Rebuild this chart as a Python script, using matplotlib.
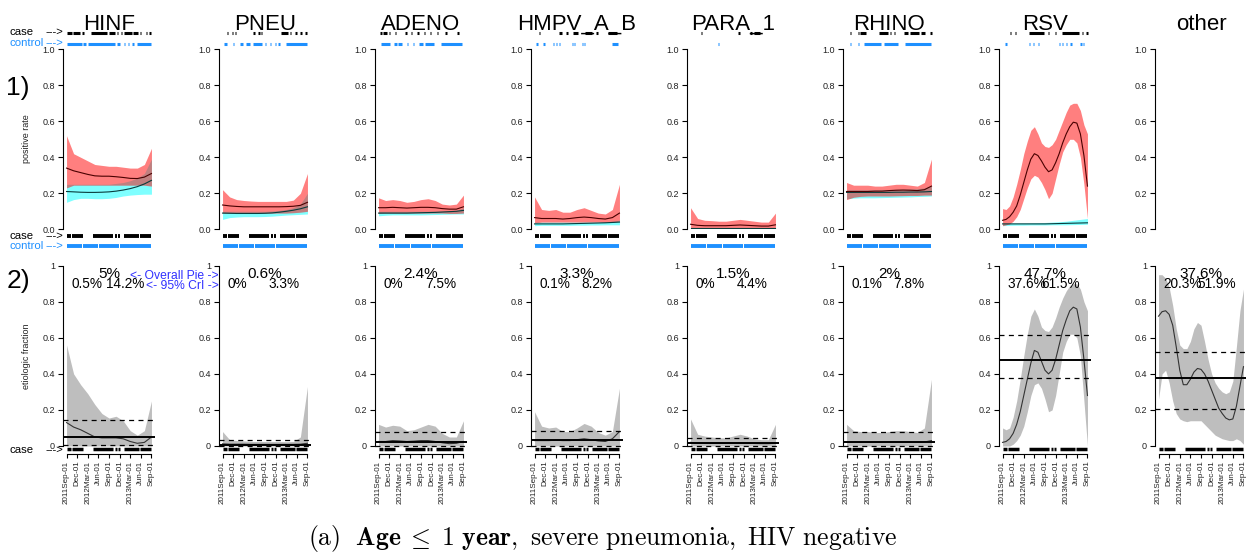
import matplotlib
matplotlib.use('Agg')
import matplotlib.pyplot as plt

plt.rcParams['font.family'] = ['Liberation Sans', 'DejaVu Sans']
plt.rcParams['mathtext.fontset'] = 'cm'

pathogens = ['HINF', 'PNEU', 'ADENO', 'HMPV_A_B', 'PARA_1', 'RHINO', 'RSV', 'other']

# months since 2011-09-01
months = [0, 2, 4, 6, 8, 10, 12, 14, 16, 18, 20, 22, 24]
months_fine = list(range(25))
tick_months = [0, 3, 6, 9, 12, 15, 18, 21, 24]
tick_labels = ['2011Sep-01', 'Dec-01', '2012Mar-01', 'Jun-01', 'Sep-01',
               'Dec-01', '2013Mar-01', 'Jun-01', 'Sep-01']

# overall pie (etiologic fraction, %) with 95% CrI
pie_mean = [5, 0.6, 2.4, 3.3, 1.5, 2, 47.7, 37.6]
pie_lo = [0.5, 0, 0, 0.1, 0, 0.1, 37.6, 20.3]
pie_hi = [14.2, 3.3, 7.5, 8.2, 4.4, 7.8, 61.5, 51.9]

# ---- 1) positive rate, cases (red) and controls (cyan) ----
hinf_case_hi = [0.52, 0.42, 0.40, 0.38, 0.36, 0.355, 0.35, 0.35, 0.345, 0.34, 0.34, 0.36, 0.45]
hinf_case_mid = [0.34, 0.325, 0.315, 0.305, 0.297, 0.295, 0.295, 0.292, 0.288, 0.283, 0.282, 0.29, 0.31]
hinf_case_lo = [0.23, 0.245, 0.245, 0.245, 0.245, 0.245, 0.245, 0.245, 0.245, 0.245, 0.245, 0.245, 0.24]
hinf_ctrl_hi = [0.25, 0.25, 0.25, 0.25, 0.25, 0.25, 0.25, 0.255, 0.26, 0.27, 0.285, 0.31, 0.39]
hinf_ctrl_mid = [0.21, 0.208, 0.206, 0.205, 0.205, 0.206, 0.208, 0.212, 0.218, 0.226, 0.237, 0.252, 0.272]
hinf_ctrl_lo = [0.15, 0.165, 0.172, 0.172, 0.17, 0.17, 0.172, 0.177, 0.185, 0.19, 0.193, 0.195, 0.195]

pneu_case_hi = [0.22, 0.18, 0.165, 0.16, 0.157, 0.155, 0.155, 0.155, 0.155, 0.155, 0.162, 0.2, 0.31]
pneu_case_mid = [0.135, 0.13, 0.127, 0.125, 0.125, 0.125, 0.125, 0.125, 0.125, 0.126, 0.128, 0.133, 0.15]
pneu_case_lo = [0.09, 0.09, 0.09, 0.09, 0.09, 0.09, 0.09, 0.09, 0.09, 0.09, 0.092, 0.095, 0.1]
pneu_ctrl_hi = [0.1, 0.1, 0.1, 0.1, 0.1, 0.1, 0.1, 0.102, 0.105, 0.11, 0.12, 0.14, 0.2]
pneu_ctrl_mid = [0.09, 0.089, 0.088, 0.088, 0.088, 0.088, 0.089, 0.091, 0.095, 0.1, 0.106, 0.114, 0.125]
pneu_ctrl_lo = [0.055, 0.065, 0.068, 0.07, 0.07, 0.07, 0.071, 0.073, 0.076, 0.079, 0.081, 0.083, 0.085]

adeno_case_hi = [0.175, 0.16, 0.165, 0.16, 0.15, 0.155, 0.165, 0.17, 0.16, 0.14, 0.135, 0.14, 0.19]
adeno_case_mid = [0.12, 0.12, 0.122, 0.12, 0.118, 0.12, 0.122, 0.122, 0.12, 0.115, 0.112, 0.112, 0.125]
adeno_case_lo = [0.088, 0.09, 0.09, 0.09, 0.09, 0.09, 0.09, 0.09, 0.09, 0.09, 0.088, 0.088, 0.09]
adeno_ctrl_hi = [0.1, 0.1, 0.1, 0.1, 0.1, 0.1, 0.1, 0.1, 0.1, 0.1, 0.102, 0.106, 0.12]
adeno_ctrl_mid = [0.09, 0.09, 0.09, 0.09, 0.09, 0.091, 0.092, 0.093, 0.094, 0.096, 0.098, 0.1, 0.105]
adeno_ctrl_lo = [0.075, 0.078, 0.08, 0.08, 0.08, 0.08, 0.08, 0.081, 0.082, 0.083, 0.084, 0.085, 0.085]

hmpv_case_hi = [0.18, 0.11, 0.105, 0.11, 0.095, 0.095, 0.11, 0.12, 0.105, 0.09, 0.085, 0.11, 0.25]
hmpv_case_mid = [0.065, 0.06, 0.06, 0.06, 0.057, 0.06, 0.065, 0.068, 0.065, 0.06, 0.057, 0.065, 0.09]
hmpv_case_lo = [0.035, 0.04, 0.04, 0.04, 0.04, 0.04, 0.04, 0.04, 0.04, 0.04, 0.038, 0.04, 0.045]
hmpv_ctrl_hi = [0.04, 0.04, 0.04, 0.04, 0.04, 0.04, 0.04, 0.04, 0.04, 0.04, 0.042, 0.045, 0.05]
hmpv_ctrl_mid = [0.03, 0.03, 0.03, 0.03, 0.03, 0.031, 0.032, 0.033, 0.034, 0.035, 0.036, 0.038, 0.04]
hmpv_ctrl_lo = [0.02, 0.022, 0.022, 0.022, 0.022, 0.022, 0.023, 0.023, 0.024, 0.024, 0.025, 0.025, 0.025]

para_case_hi = [0.12, 0.06, 0.05, 0.048, 0.045, 0.045, 0.05, 0.055, 0.05, 0.045, 0.04, 0.04, 0.09]
para_case_mid = [0.028, 0.022, 0.02, 0.02, 0.02, 0.02, 0.022, 0.024, 0.022, 0.02, 0.018, 0.018, 0.025]
para_case_lo = [0.008, 0.01, 0.01, 0.01, 0.01, 0.01, 0.01, 0.01, 0.01, 0.01, 0.009, 0.008, 0.008]
para_ctrl_hi = [0.01, 0.01, 0.01, 0.01, 0.01, 0.01, 0.01, 0.01, 0.01, 0.01, 0.01, 0.01, 0.01]
para_ctrl_mid = [0.006, 0.006, 0.006, 0.006, 0.006, 0.006, 0.006, 0.006, 0.006, 0.006, 0.006, 0.006, 0.006]
para_ctrl_lo = [0.003, 0.003, 0.003, 0.003, 0.003, 0.003, 0.003, 0.003, 0.003, 0.003, 0.003, 0.003, 0.003]

rhino_case_hi = [0.26, 0.245, 0.245, 0.245, 0.24, 0.24, 0.245, 0.25, 0.25, 0.245, 0.24, 0.26, 0.39]
rhino_case_mid = [0.21, 0.21, 0.21, 0.21, 0.212, 0.212, 0.215, 0.217, 0.218, 0.217, 0.215, 0.22, 0.24]
rhino_case_lo = [0.165, 0.178, 0.183, 0.185, 0.185, 0.185, 0.185, 0.186, 0.187, 0.188, 0.188, 0.19, 0.19]
rhino_ctrl_hi = [0.22, 0.22, 0.22, 0.22, 0.22, 0.22, 0.221, 0.222, 0.223, 0.224, 0.226, 0.23, 0.24]
rhino_ctrl_mid = [0.205, 0.205, 0.205, 0.205, 0.205, 0.205, 0.205, 0.206, 0.206, 0.207, 0.207, 0.208, 0.21]
rhino_ctrl_lo = [0.17, 0.173, 0.175, 0.175, 0.175, 0.176, 0.177, 0.178, 0.179, 0.18, 0.182, 0.183, 0.185]

rsv_case_hi = [0.115, 0.11, 0.13, 0.18, 0.25, 0.33, 0.42, 0.49, 0.55, 0.57, 0.53, 0.48, 0.46,
               0.455, 0.47, 0.50, 0.55, 0.60, 0.65, 0.69, 0.70, 0.70, 0.66, 0.58, 0.53]
rsv_case_mid = [0.05, 0.055, 0.07, 0.095, 0.13, 0.19, 0.26, 0.33, 0.39, 0.42, 0.41, 0.38, 0.345,
                0.32, 0.33, 0.37, 0.42, 0.48, 0.53, 0.57, 0.595, 0.59, 0.53, 0.41, 0.24]
rsv_case_lo = [0.02, 0.025, 0.03, 0.045, 0.07, 0.11, 0.17, 0.23, 0.28, 0.30, 0.29, 0.26, 0.22,
               0.17, 0.20, 0.28, 0.36, 0.43, 0.47, 0.50, 0.50, 0.48, 0.40, 0.25, 0.06]
rsv_ctrl_hi = [0.035, 0.035, 0.035, 0.035, 0.036, 0.037, 0.038, 0.04, 0.042, 0.045, 0.05, 0.055, 0.06]
rsv_ctrl_mid = [0.03, 0.03, 0.03, 0.03, 0.03, 0.03, 0.03, 0.031, 0.032, 0.033, 0.034, 0.035, 0.036]
rsv_ctrl_lo = [0.02, 0.022, 0.023, 0.023, 0.024, 0.024, 0.024, 0.025, 0.025, 0.025, 0.026, 0.027, 0.028]

# ---- 2) etiologic fraction over time ----
hinf_ef_hi = [0.56, 0.40, 0.34, 0.29, 0.23, 0.18, 0.155, 0.165, 0.14, 0.085, 0.06, 0.085, 0.25]
hinf_ef_mid = [0.13, 0.105, 0.09, 0.07, 0.05, 0.045, 0.045, 0.045, 0.04, 0.025, 0.015, 0.02, 0.05]
pneu_ef_hi = [0.08, 0.035, 0.03, 0.028, 0.025, 0.025, 0.025, 0.025, 0.025, 0.024, 0.025, 0.05, 0.33]
pneu_ef_mid = [0.012, 0.01, 0.01, 0.01, 0.009, 0.009, 0.009, 0.009, 0.009, 0.009, 0.009, 0.01, 0.015]
adeno_ef_hi = [0.12, 0.105, 0.115, 0.11, 0.085, 0.09, 0.105, 0.12, 0.11, 0.07, 0.05, 0.05, 0.14]
adeno_ef_mid = [0.025, 0.025, 0.03, 0.028, 0.025, 0.027, 0.03, 0.03, 0.025, 0.018, 0.013, 0.015, 0.025]
hmpv_ef_hi = [0.19, 0.11, 0.10, 0.105, 0.08, 0.08, 0.10, 0.125, 0.11, 0.075, 0.06, 0.08, 0.32]
hmpv_ef_mid = [0.03, 0.03, 0.03, 0.032, 0.03, 0.03, 0.035, 0.04, 0.035, 0.028, 0.025, 0.04, 0.08]
para_ef_hi = [0.15, 0.065, 0.055, 0.05, 0.045, 0.045, 0.055, 0.065, 0.055, 0.04, 0.035, 0.035, 0.12]
para_ef_mid = [0.02, 0.016, 0.015, 0.015, 0.015, 0.015, 0.016, 0.017, 0.016, 0.014, 0.013, 0.013, 0.015]
rhino_ef_hi = [0.12, 0.085, 0.08, 0.08, 0.075, 0.075, 0.08, 0.085, 0.085, 0.08, 0.075, 0.1, 0.37]
rhino_ef_mid = [0.02, 0.02, 0.02, 0.02, 0.02, 0.02, 0.021, 0.022, 0.022, 0.021, 0.02, 0.022, 0.03]
ef_lo_flat = [0, 0, 0, 0, 0, 0, 0, 0, 0, 0, 0, 0, 0]
rsv_ef_hi = [0.10, 0.09, 0.10, 0.16, 0.25, 0.37, 0.50, 0.62, 0.72, 0.76, 0.72, 0.66, 0.64,
             0.635, 0.66, 0.71, 0.77, 0.82, 0.86, 0.89, 0.90, 0.90, 0.87, 0.80, 0.75]
rsv_ef_mid = [0.02, 0.025, 0.04, 0.07, 0.12, 0.19, 0.28, 0.37, 0.46, 0.53, 0.52, 0.47, 0.42,
              0.40, 0.42, 0.48, 0.56, 0.64, 0.70, 0.75, 0.77, 0.76, 0.66, 0.48, 0.28]
rsv_ef_lo = [0.0, 0.0, 0.0, 0.01, 0.03, 0.06, 0.11, 0.19, 0.28, 0.34, 0.35, 0.32, 0.26,
             0.19, 0.20, 0.28, 0.40, 0.52, 0.58, 0.62, 0.62, 0.60, 0.50, 0.25, 0.0]
other_ef_hi = [0.95, 0.95, 0.93, 0.88, 0.78, 0.65, 0.56, 0.54, 0.54, 0.58, 0.65, 0.685, 0.67,
               0.58, 0.48, 0.40, 0.35, 0.32, 0.30, 0.29, 0.30, 0.36, 0.55, 0.75, 0.87]
other_ef_mid = [0.72, 0.745, 0.75, 0.73, 0.67, 0.55, 0.42, 0.34, 0.34, 0.37, 0.41, 0.43, 0.425,
                0.40, 0.36, 0.31, 0.26, 0.21, 0.18, 0.155, 0.145, 0.15, 0.22, 0.33, 0.44]
other_ef_lo = [0.26, 0.40, 0.42, 0.35, 0.25, 0.18, 0.15, 0.14, 0.135, 0.14, 0.14, 0.14, 0.14,
               0.12, 0.10, 0.08, 0.06, 0.05, 0.04, 0.035, 0.03, 0.03, 0.04, 0.03, 0.01]

# ---- rug marks: (start, end) month ranges ----
case_rug_all = [(0, 1.2), (1.5, 4.6), (7.5, 13.2), (13.6, 14.2), (14.6, 15.2), (16.1, 20.5), (20.8, 24)]
ctrl_rug_all = [(0, 4.3), (4.6, 8.9), (9.2, 14.8), (15.1, 24)]

hinf_case_top = [(0, 1.5), (1.9, 3.8), (4.5, 4.9), (6.8, 11.5), (11.9, 13.8), (14.3, 14.6), (15.4, 15.7),
                 (16.3, 18.5), (18.9, 20.1), (20.8, 21.1), (22.4, 22.7), (23.2, 24)]
hinf_ctrl_top = [(0, 4.3), (4.6, 5.5), (6.2, 13.8), (14.4, 15.2), (16.2, 16.5), (17.4, 17.7),
                 (18.6, 18.9), (19.9, 24)]
pneu_case_top = [(1.3, 1.6), (2.6, 2.9), (3.4, 3.7), (8.5, 9.3), (10.1, 10.4), (10.8, 11.1),
                 (16.4, 18.5), (19.1, 19.4), (20.6, 20.9), (22, 22.3), (23.4, 24)]
pneu_ctrl_top = [(0.4, 1.3), (2.9, 3.2), (5, 5.9), (6.7, 7.8), (8.6, 11.1), (12, 12.3), (13.4, 13.7),
                 (14.8, 15.1), (15.8, 16.1), (17.8, 23.8)]
adeno_case_top = [(0.3, 1.0), (1.4, 2.4), (3.0, 3.3), (4.6, 4.9), (7.6, 8.1), (9.1, 9.4), (11.0, 11.3),
                  (12.9, 13.2), (14.6, 14.9), (16.5, 16.8), (18.9, 19.2), (22.1, 22.8)]
adeno_ctrl_top = [(0.7, 3.2), (4.3, 5.2), (5.6, 6.6), (8.0, 8.3), (9.8, 10.1), (11.4, 12.6),
                  (13.0, 15.6), (17.7, 23.7)]
hmpv_case_top = [(1.3, 1.6), (6.9, 7.9), (9.0, 9.3), (10.8, 12.4), (14.3, 16.2), (17.5, 17.8), (20.7, 23.3)]
hmpv_ctrl_top = [(0.5, 0.8), (2.5, 2.8), (5.2, 5.5), (6.0, 6.3), (6.8, 7.1), (10.5, 10.8), (11.2, 11.5),
                 (13.3, 13.6), (14.0, 14.3), (21.9, 23.5)]
para_case_top = [(3.0, 3.3), (13.5, 13.8), (16.9, 17.2), (17.8, 19.7)]
para_ctrl_top = [(7.8, 8.1)]
rhino_case_top = [(1.0, 1.3), (3.2, 3.5), (3.9, 5.5), (9.2, 11.6), (12.3, 12.6), (13.4, 13.7),
                  (16.2, 17.5), (17.9, 20.5), (21, 22.1), (23.7, 24)]
rhino_ctrl_top = [(1.0, 1.3), (3.1, 3.4), (4.8, 9.7), (10.7, 14.5), (16.6, 24)]
rsv_case_top = [(2.1, 2.4), (3.4, 3.7), (7.5, 11.8), (12.8, 13.1), (14.7, 15.0), (16.9, 21.6),
                (22.5, 22.8), (23.7, 24)]
rsv_ctrl_top = [(0.8, 1.1), (7.4, 7.7), (8.6, 8.9), (10.0, 10.3), (15.9, 16.2), (16.8, 17.1),
                (18.0, 18.3), (19.2, 19.5), (21.8, 22.4), (22.7, 23.0)]

positive = [
    (months, hinf_case_lo, hinf_case_mid, hinf_case_hi, months, hinf_ctrl_lo, hinf_ctrl_mid, hinf_ctrl_hi),
    (months, pneu_case_lo, pneu_case_mid, pneu_case_hi, months, pneu_ctrl_lo, pneu_ctrl_mid, pneu_ctrl_hi),
    (months, adeno_case_lo, adeno_case_mid, adeno_case_hi, months, adeno_ctrl_lo, adeno_ctrl_mid, adeno_ctrl_hi),
    (months, hmpv_case_lo, hmpv_case_mid, hmpv_case_hi, months, hmpv_ctrl_lo, hmpv_ctrl_mid, hmpv_ctrl_hi),
    (months, para_case_lo, para_case_mid, para_case_hi, months, para_ctrl_lo, para_ctrl_mid, para_ctrl_hi),
    (months, rhino_case_lo, rhino_case_mid, rhino_case_hi, months, rhino_ctrl_lo, rhino_ctrl_mid, rhino_ctrl_hi),
    (months_fine, rsv_case_lo, rsv_case_mid, rsv_case_hi, months, rsv_ctrl_lo, rsv_ctrl_mid, rsv_ctrl_hi),
    None,
]
etiologic = [
    (months, ef_lo_flat, hinf_ef_mid, hinf_ef_hi),
    (months, ef_lo_flat, pneu_ef_mid, pneu_ef_hi),
    (months, ef_lo_flat, adeno_ef_mid, adeno_ef_hi),
    (months, ef_lo_flat, hmpv_ef_mid, hmpv_ef_hi),
    (months, ef_lo_flat, para_ef_mid, para_ef_hi),
    (months, ef_lo_flat, rhino_ef_mid, rhino_ef_hi),
    (months_fine, rsv_ef_lo, rsv_ef_mid, rsv_ef_hi),
    (months_fine, other_ef_lo, other_ef_mid, other_ef_hi),
]
top_rugs = [(hinf_case_top, hinf_ctrl_top), (pneu_case_top, pneu_ctrl_top), (adeno_case_top, adeno_ctrl_top),
            (hmpv_case_top, hmpv_ctrl_top), (para_case_top, para_ctrl_top), (rhino_case_top, rhino_ctrl_top),
            (rsv_case_top, rsv_ctrl_top), None]

W, H = 1246, 552
fig = plt.figure(figsize=(W / 100, H / 100), dpi=100)

ctrl_blue = '#1E90FF'
tick_col = '#222222'


def rug(ax, segs, y, color, lw):
    ax.hlines([y] * len(segs), [s for s, e in segs], [max(e, s + 0.35) for s, e in segs],
              colors=color, lw=lw, clip_on=False)


def fmt(v):
    return '{:g}%'.format(v)


for i, name in enumerate(pathogens):
    left = 63 + 156 * i
    ax1 = fig.add_axes([left / W, (H - 229.3) / H, 92 / W, 180 / H])
    ax2 = fig.add_axes([left / W, (H - 454) / H, 92 / W, 188.3 / H])

    # --- top panel: positive rate ---
    ax1.set_xlim(-1, 25)
    ax1.set_ylim(0, 1)
    for s in ['top', 'right', 'bottom']:
        ax1.spines[s].set_visible(False)
    ax1.spines['left'].set_bounds(0, 1)
    ax1.spines['left'].set_linewidth(0.8)
    ax1.set_xticks([])
    ax1.set_yticks([0, 0.2, 0.4, 0.6, 0.8, 1.0])
    ax1.set_yticklabels(['0.0', '0.2', '0.4', '0.6', '0.8', '1.0'])
    ax1.tick_params(axis='y', labelsize=6.5, length=3.8, width=0.8, pad=2, labelcolor=tick_col)
    ax1.text(0.5, 1 + (49.3 - 29.5) / 180, name, transform=ax1.transAxes,
             ha='center', va='baseline', fontsize=16)

    pr = positive[i]
    if pr is not None:
        xc, clo, cmid, chi, xk, klo, kmid, khi = pr
        ax1.fill_between(xk, klo, khi, color='#00FFFF', alpha=0.5, lw=0)
        ax1.fill_between(xc, clo, chi, color='#FF0000', alpha=0.5, lw=0)
        ax1.plot(xk, kmid, color='#0a3c3c', lw=0.8)
        ax1.plot(xc, cmid, color='#4a0000', lw=0.8)
        rug(ax1, case_rug_all, -0.037, 'black', 2.8)
        rug(ax1, ctrl_rug_all, -0.093, ctrl_blue, 2.8)
    if top_rugs[i] is not None:
        case_top, ctrl_top = top_rugs[i]
        rug(ax1, case_top, 1.089, 'black', 2.2)
        rug(ax1, ctrl_top, 1.032, ctrl_blue, 2.2)

    # --- bottom panel: etiologic fraction ---
    ax2.set_xlim(-1, 25)
    ax2.set_ylim(-0.0444, 1)
    for s in ['top', 'right']:
        ax2.spines[s].set_visible(False)
    ax2.spines['left'].set_bounds(0, 1)
    ax2.spines['bottom'].set_bounds(0, 24)
    ax2.spines['left'].set_linewidth(0.8)
    ax2.spines['bottom'].set_linewidth(0.8)
    ax2.set_yticks([0, 0.2, 0.4, 0.6, 0.8, 1.0])
    ax2.set_yticklabels(['0', '0.2', '0.4', '0.6', '0.8', '1'])
    ax2.tick_params(axis='y', labelsize=6.5, length=3.8, width=0.8, pad=2, labelcolor=tick_col)
    ax2.set_xticks(tick_months)
    ax2.set_xticklabels(tick_labels, rotation=90)
    ax2.tick_params(axis='x', labelsize=5.8, length=3.2, width=0.8, pad=1.5, labelcolor=tick_col)

    xe, elo, emid, ehi = etiologic[i]
    ax2.fill_between(xe, elo, ehi, color='#BEBEBE', lw=0)
    ax2.plot(xe, emid, color='#333333', lw=0.8)
    ax2.axhline(pie_mean[i] / 100, color='black', lw=1.4)
    ax2.axhline(pie_lo[i] / 100, color='black', lw=0.9, dashes=(4, 3.5))
    ax2.axhline(pie_hi[i] / 100, color='black', lw=0.9, dashes=(4, 3.5))
    rug(ax2, case_rug_all, -0.019, 'black', 2.5)

    ax2.text(12, 0.954, fmt(pie_mean[i]), ha='center', va='center', fontsize=11)
    ax2.text(1.5, 0.898, fmt(pie_lo[i]), ha='left', va='center', fontsize=9.8)
    ax2.text(21.9, 0.898, fmt(pie_hi[i]), ha='right', va='center', fontsize=9.8)


def ftext(x, y, s, **kw):
    fig.text(x / W, 1 - y / H, s, **kw)


# left-side annotations
for y, lab, col in [(32, 'case', 'black'), (43, 'control', ctrl_blue), (236, 'case', 'black'),
                    (246, 'control', ctrl_blue), (450, 'case', 'black')]:
    ftext(9, y, lab, ha='left', va='center', fontsize=8.2, color=col)
    ftext(63, y, '--->', ha='right', va='center', fontsize=8.2, color=col)

ftext(18, 88, '1)', ha='center', va='center', fontsize=19)
ftext(18, 281, '2)', ha='center', va='center', fontsize=19)
ftext(26.5, 139, 'positive rate', ha='center', va='center', rotation=90, fontsize=6.5, color='#222222')
ftext(27, 356, 'etiologic fraction', ha='center', va='center', rotation=90, fontsize=6.5, color='#222222')
ftext(219, 276, '<- Overall Pie ->', ha='right', va='center', fontsize=8.7, color='#3030FF')
ftext(219, 286, '<- 95% CrI ->', ha='right', va='center', fontsize=8.7, color='#3030FF')

ftext(603, 538, r'$\mathrm{(a)}\ \ \mathbf{Age}\;\leq\;1\ \mathbf{year}\mathrm{,\ severe\ pneumonia,\ HIV\ negative}$',
      ha='center', va='center', fontsize=18.5)

fig.savefig('out.png', dpi=100)
plt.close(fig)
